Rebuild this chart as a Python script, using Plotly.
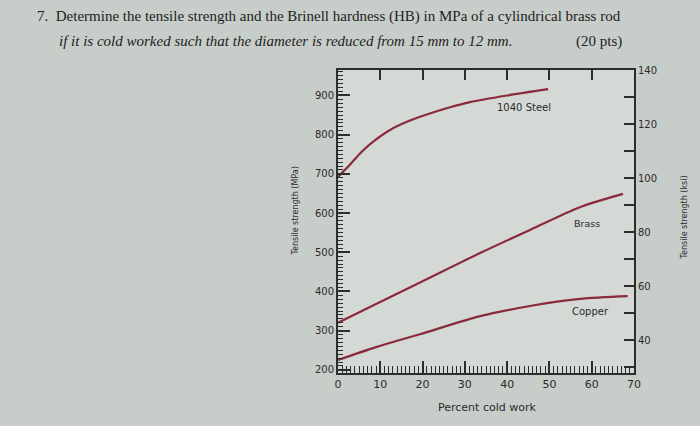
import plotly.graph_objects as go

# Data (percent cold work vs tensile strength, MPa)
steel_pct = [0, 2.8, 5.2, 7.6, 12.3, 17, 21.7, 26.5, 31.2, 40, 49.7]
steel_mpa = [692, 723, 752, 776, 812, 836, 854, 870, 883, 900, 916]
brass_pct = [0, 9, 20, 33.6, 45.4, 57.2, 67.4]
brass_mpa = [320, 368, 426, 498, 557, 615, 649]
copper_pct = [0, 9, 19.4, 33.6, 45.4, 57.2, 68.5]
copper_mpa = [225, 258, 291, 337, 363, 381, 388]

x_top_ticks = [10, 20, 30, 40, 50, 60]
line1 = "7.  Determine the tensile strength and the Brinell hardness (HB) in MPa of a cylindrical brass rod"
line2 = "if it is cold worked such that the diameter is reduced from 15 mm to 12 mm."
pts = "(20 pts)"

curve_color = "#8a2a3a"
axis_color = "#2a2e2e"
text_color = "#2b2b2b"

ML, MR, MT, MB = 338, 66, 70, 53
PW, PH = 700 - ML - MR, 426 - MT - MB


def px(x):
    return (x - ML) / PW


def py(y):
    return (426 - MB - y) / PH


fig = go.Figure()
for xs, ys in [(steel_pct, steel_mpa), (brass_pct, brass_mpa), (copper_pct, copper_mpa)]:
    fig.add_trace(go.Scatter(x=xs, y=ys, mode="lines", line=dict(color=curve_color, width=2.2, shape="spline", smoothing=0.8),
                             showlegend=False, hoverinfo="skip"))
# invisible trace to anchor the secondary axes
fig.add_trace(go.Scatter(x=[0], y=[40], xaxis="x2", yaxis="y2", mode="markers", marker=dict(opacity=0), showlegend=False, hoverinfo="skip"))

tick_font = dict(family="DejaVu Sans", size=11, color=text_color)

fig.update_layout(
    width=700, height=426,
    margin=dict(l=ML, r=MR, t=MT, b=MB),
    paper_bgcolor="#c7cdc9",
    plot_bgcolor="#d4d9d5",
    xaxis=dict(range=[0, 70], tick0=0, dtick=10, ticks="inside", ticklen=12, tickwidth=1.5, tickcolor=axis_color,
               showline=True, linecolor=axis_color, linewidth=2, showgrid=False, zeroline=False, tickfont=tick_font,
               minor=dict(ticks="inside", ticklen=7, dtick=1, tickwidth=1, tickcolor=axis_color)),
    xaxis2=dict(range=[0, 70], overlaying="x", side="top", tickvals=x_top_ticks, ticks="inside", ticklen=10, tickwidth=1.5,
                tickcolor=axis_color, showticklabels=False, showline=True, linecolor=axis_color, linewidth=2,
                showgrid=False, zeroline=False),
    yaxis=dict(range=[192, 965], tick0=0, dtick=100, ticks="inside", ticklen=12, tickwidth=1.5, tickcolor=axis_color,
               showline=True, linecolor=axis_color, linewidth=2, showgrid=False, zeroline=False,
               tickfont=dict(family="DejaVu Sans", size=10, color=text_color),
               minor=dict(ticks="inside", ticklen=5, dtick=10, tickwidth=1, tickcolor=axis_color)),
    yaxis2=dict(range=[192 / 6.895, 140.02], overlaying="y", side="right", tick0=0, dtick=20, ticks="inside", ticklen=10,
                tickwidth=1.5, tickcolor=axis_color, showline=True, linecolor=axis_color, linewidth=2, showgrid=False,
                zeroline=False, tickfont=dict(family="DejaVu Sans", size=10, color=text_color),
                minor=dict(ticks="inside", ticklen=10, dtick=10, tickwidth=1.5, tickcolor=axis_color)),
)

serif = dict(family="Liberation Serif", size=15, color="#1e2222")
ann = [
    dict(x=px(35), y=py(16), xanchor="left", text=line1, font=serif),
    dict(x=px(57), y=py(41), xanchor="left", text="<i>" + line2 + "</i>", font=serif),
    dict(x=px(574), y=py(41), xanchor="left", text=pts, font=serif),
    dict(x=px(288), y=py(211), textangle=-90, text="Tensile strength (MPa)",
         font=dict(family="DejaVu Sans", size=8, color=text_color)),
    dict(x=px(690), y=py(218), textangle=-90, text="Tensile strength (ksi)",
         font=dict(family="DejaVu Sans", size=8, color=text_color)),
    dict(x=px(487), y=py(407), text="Percent cold work", font=dict(family="DejaVu Sans", size=11, color=text_color)),
    dict(x=px(495), y=py(107), xanchor="left", text="1040 Steel", font=dict(family="DejaVu Sans", size=10, color=text_color)),
    dict(x=px(572), y=py(223), xanchor="left", text="Brass", font=dict(family="DejaVu Sans", size=9.5, color=text_color)),
    dict(x=px(570), y=py(311), xanchor="left", text="Copper", font=dict(family="DejaVu Sans", size=10, color=text_color)),
]
for a in ann:
    a.update(xref="paper", yref="paper", showarrow=False, yanchor="middle")
fig.update_layout(annotations=ann)

fig.write_html("out.html")
